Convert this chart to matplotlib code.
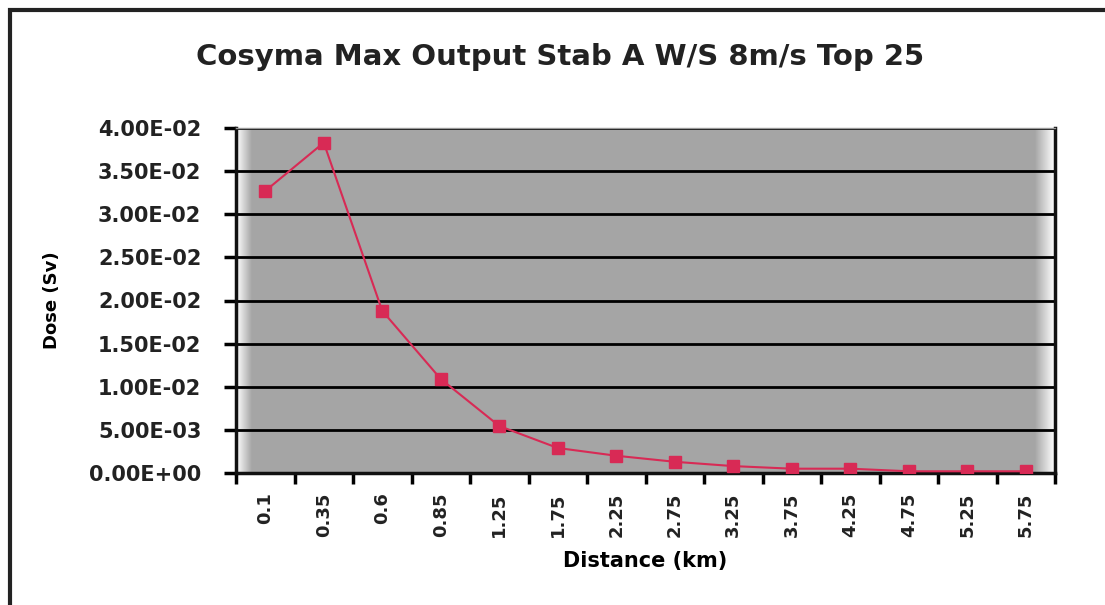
import numpy as np
import matplotlib.pyplot as plt
from matplotlib.patches import Rectangle

distance = ['0.1', '0.35', '0.6', '0.85', '1.25', '1.75', '2.25', '2.75',
            '3.25', '3.75', '4.25', '4.75', '5.25', '5.75']
dose = [0.0327, 0.0383, 0.0188, 0.0109, 0.00545, 0.0029, 0.0020, 0.0013,
        0.0008, 0.0005, 0.0005, 0.0002, 0.0002, 0.0002]
yticks = np.arange(0, 0.0401, 0.005)
ylabels = ['0.00E+00', '5.00E-03', '1.00E-02', '1.50E-02', '2.00E-02',
           '2.50E-02', '3.00E-02', '3.50E-02', '4.00E-02']

fig = plt.figure(figsize=(11.05, 6.05), dpi=100)
ax = fig.add_axes([236 / 1105, 1 - 473 / 605, 819 / 1105, 345 / 605])

# outer chart frame (left and top edges visible in reference)
fig.patches.append(Rectangle((10 / 1105, -0.1), 1.2, 1 - 10 / 605 + 0.1,
                             transform=fig.transFigure, fill=False,
                             edgecolor='#222222', linewidth=3))

# grey plot area fading to white at the edges
grad = np.ones(800)
grad[:16] = np.linspace(0.0, 1.0, 16)
grad[-20:] = np.linspace(1.0, 0.0, 20)
white = np.array([1.0, 1.0, 1.0])
grey = np.array([0.65, 0.65, 0.65])
img = white[None, :] * (1 - grad[:, None]) + grey[None, :] * grad[:, None]
ax.imshow(img[None, :, :], extent=[0, 1, 0, 1], transform=ax.transAxes,
          aspect='auto', zorder=0)

x = np.arange(len(distance))
ax.plot(x, dose, color='#d82a55', linewidth=1.5, marker='s', markersize=9,
        markerfacecolor='#d82a55', markeredgecolor='#d82a55', zorder=3)

ax.set_xlim(-0.5, len(distance) - 0.5)
ax.set_ylim(0, 0.04)
ax.set_yticks(yticks)
ax.set_yticklabels(ylabels, fontsize=15, fontweight='bold', color='#222222')
for v in yticks[1:]:
    ax.axhline(v, color='black', linewidth=2, zorder=1)

ax.set_xticks(x)
ax.set_xticklabels(distance, rotation=90, fontsize=13, fontweight='bold',
                   color='#222222')
ax.set_xticks(np.arange(-0.5, len(distance)), minor=True)
ax.tick_params(axis='x', which='major', length=0, pad=14)
ax.tick_params(axis='x', which='minor', length=8, width=2.5, direction='out')
ax.tick_params(axis='y', length=9, width=2.5, direction='out', pad=16)

for s in ['left', 'bottom', 'right']:
    ax.spines[s].set_linewidth(2.5)
    ax.spines[s].set_color('#111111')
ax.spines['top'].set_color('#999999')
ax.spines['top'].set_linewidth(1)

ax.set_ylabel('Dose (Sv)', fontsize=13, fontweight='bold', labelpad=20)
ax.set_xlabel('Distance (km)', fontsize=15, fontweight='bold', labelpad=10)
fig.text(560 / 1105, 1 - 57 / 605, 'Cosyma Max Output Stab A W/S 8m/s Top 25',
         ha='center', va='center', fontsize=21, fontweight='bold', color='#222222')

fig.savefig('out.png', dpi=100)
